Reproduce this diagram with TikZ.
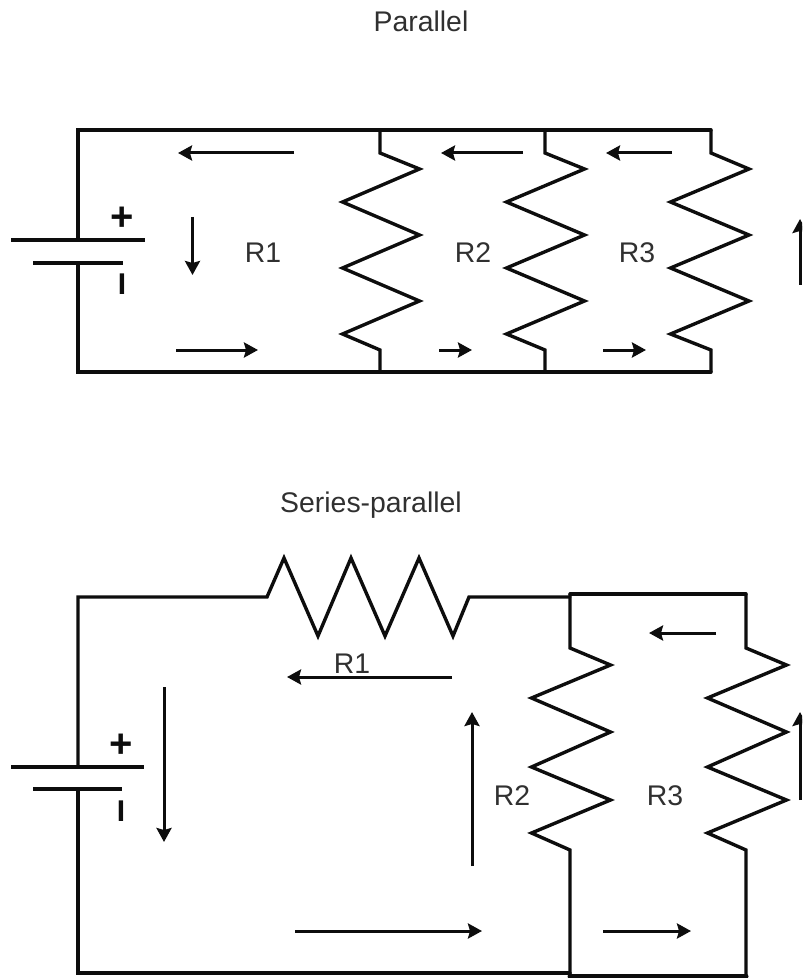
\documentclass[tikz,border=0pt]{standalone}
\usepackage{fontspec}
\setmainfont{Liberation Sans}
\usepackage{xcolor}
\usetikzlibrary{arrows.meta}
\definecolor{wire}{HTML}{0D0D0D}
\definecolor{ink}{HTML}{303030}
\tikzset{
  base/.style={draw=wire, line width=1.7pt, line cap=round, line join=miter},
  plate/.style={draw=wire, line width=1.6pt},
  flow/.style={draw=wire, line width=1.5pt, -{Stealth[length=7pt,width=7.5pt,inset=1pt]}},
  lab/.style={text=ink, font=\fontsize{14.2}{16}\selectfont, anchor=base, inner sep=0pt},
  sign/.style={text=wire, font=\fontsize{20}{22}\bfseries\selectfont, inner sep=0pt},
  minus/.style={text=wire, font=\fontsize{15}{16}\bfseries\selectfont, inner sep=0pt},
}

\begin{document}
\begin{tikzpicture}[x=0.5pt,y=-0.5pt]
  \useasboundingbox (0,0) rectangle (802,978);
  \clip (0,0) rectangle (802,978);

  % parallel circuit
  \coordinate (ptl) at (78,130);
  \coordinate (pbl) at (78,372);
  \coordinate (ptr) at (711,130);
  \coordinate (pbr) at (711,372);
  \coordinate (pplus) at (78,240);
  \coordinate (pminus) at (78,263);

  \node[lab] (ptitle) at (421,32) {Parallel};
  \draw[base] (pplus) -- (ptl) -- (ptr);
  \draw[base] (pminus) -- (pbl) -- (pbr);
  \draw[plate] (11,240) -- (145,240);
  \draw[plate] (33,263) -- (123,263);
  \node[sign] (psign) at (122,219) {+};
  \node[minus] (pbar) at (122,284) {I};

  \foreach \x/\r/\l in {380/419.5/342.5, 545/584.5/506.5, 711/749/670.5}
    \draw[base] (\x,130) -- (\x,153) -- (\r,169) -- (\l,202) -- (\r,235)
      -- (\l,268) -- (\r,301) -- (\l,334) -- (\x,350) -- (\x,372);

  \node[lab] (pra) at (263,263) {R1};
  \node[lab] (prb) at (473,263) {R2};
  \node[lab] (prc) at (637,263) {R3};

  \foreach \xa/\ya/\xb/\yb in {294/153/178/153, 192.5/217/192.5/275, 176/350/258/350,
      523/153/441/153, 439/350/472/350, 672/153/606/153, 603/350/646/350, 800/285/800/219}
    \draw[flow] (\xa,\ya) -- (\xb,\yb);

  % series-parallel circuit
  \coordinate (stl) at (78,597);
  \coordinate (sbl) at (78,973);
  \coordinate (sj) at (570,597);
  \coordinate (stj) at (570,594);
  \coordinate (str) at (746,594);
  \coordinate (sbj) at (570,976);
  \coordinate (sbr) at (746,976);
  \coordinate (splus) at (78,767);
  \coordinate (sminus) at (78,789);

  \node[lab] (stitle) at (371,512) {Series-parallel};
  \draw[base] (splus) -- (stl) -- (267,597) -- (284,558) -- (318,636) -- (351,558)
    -- (385,636) -- (419,558) -- (453,636) -- (469,597) -- (sj);
  \draw[base] (sminus) -- (sbl) -- (570,973);
  \draw[plate] (11,767) -- (144,767);
  \draw[plate] (33,789) -- (122,789);
  \node[sign] (ssign) at (121,746) {+};
  \node[minus] (sbar) at (121,811) {I};

  \draw[base] (stj) -- (str);
  \foreach \x/\r/\l in {570/610.5/531.5, 746/786.5/707.5}
    \draw[base] (\x,594) -- (\x,648) -- (\r,665) -- (\l,698) -- (\r,732)
      -- (\l,767) -- (\r,800) -- (\l,833) -- (\x,850) -- (\x,976);
  \draw[base, line width=2.5pt] (sbj) -- (sbr);

  \node[lab] (sra) at (352,673) {R1};
  \node[lab] (srb) at (512,805) {R2};
  \node[lab] (src) at (665,805) {R3};

  \foreach \xa/\ya/\xb/\yb in {452/677/287/677, 164/687/164/842, 472/866/472/712,
      295/931/482/931, 716/633/649/633, 603/931/691/931, 800/800/800/712}
    \draw[flow] (\xa,\ya) -- (\xb,\yb);
\end{tikzpicture}
\end{document}
